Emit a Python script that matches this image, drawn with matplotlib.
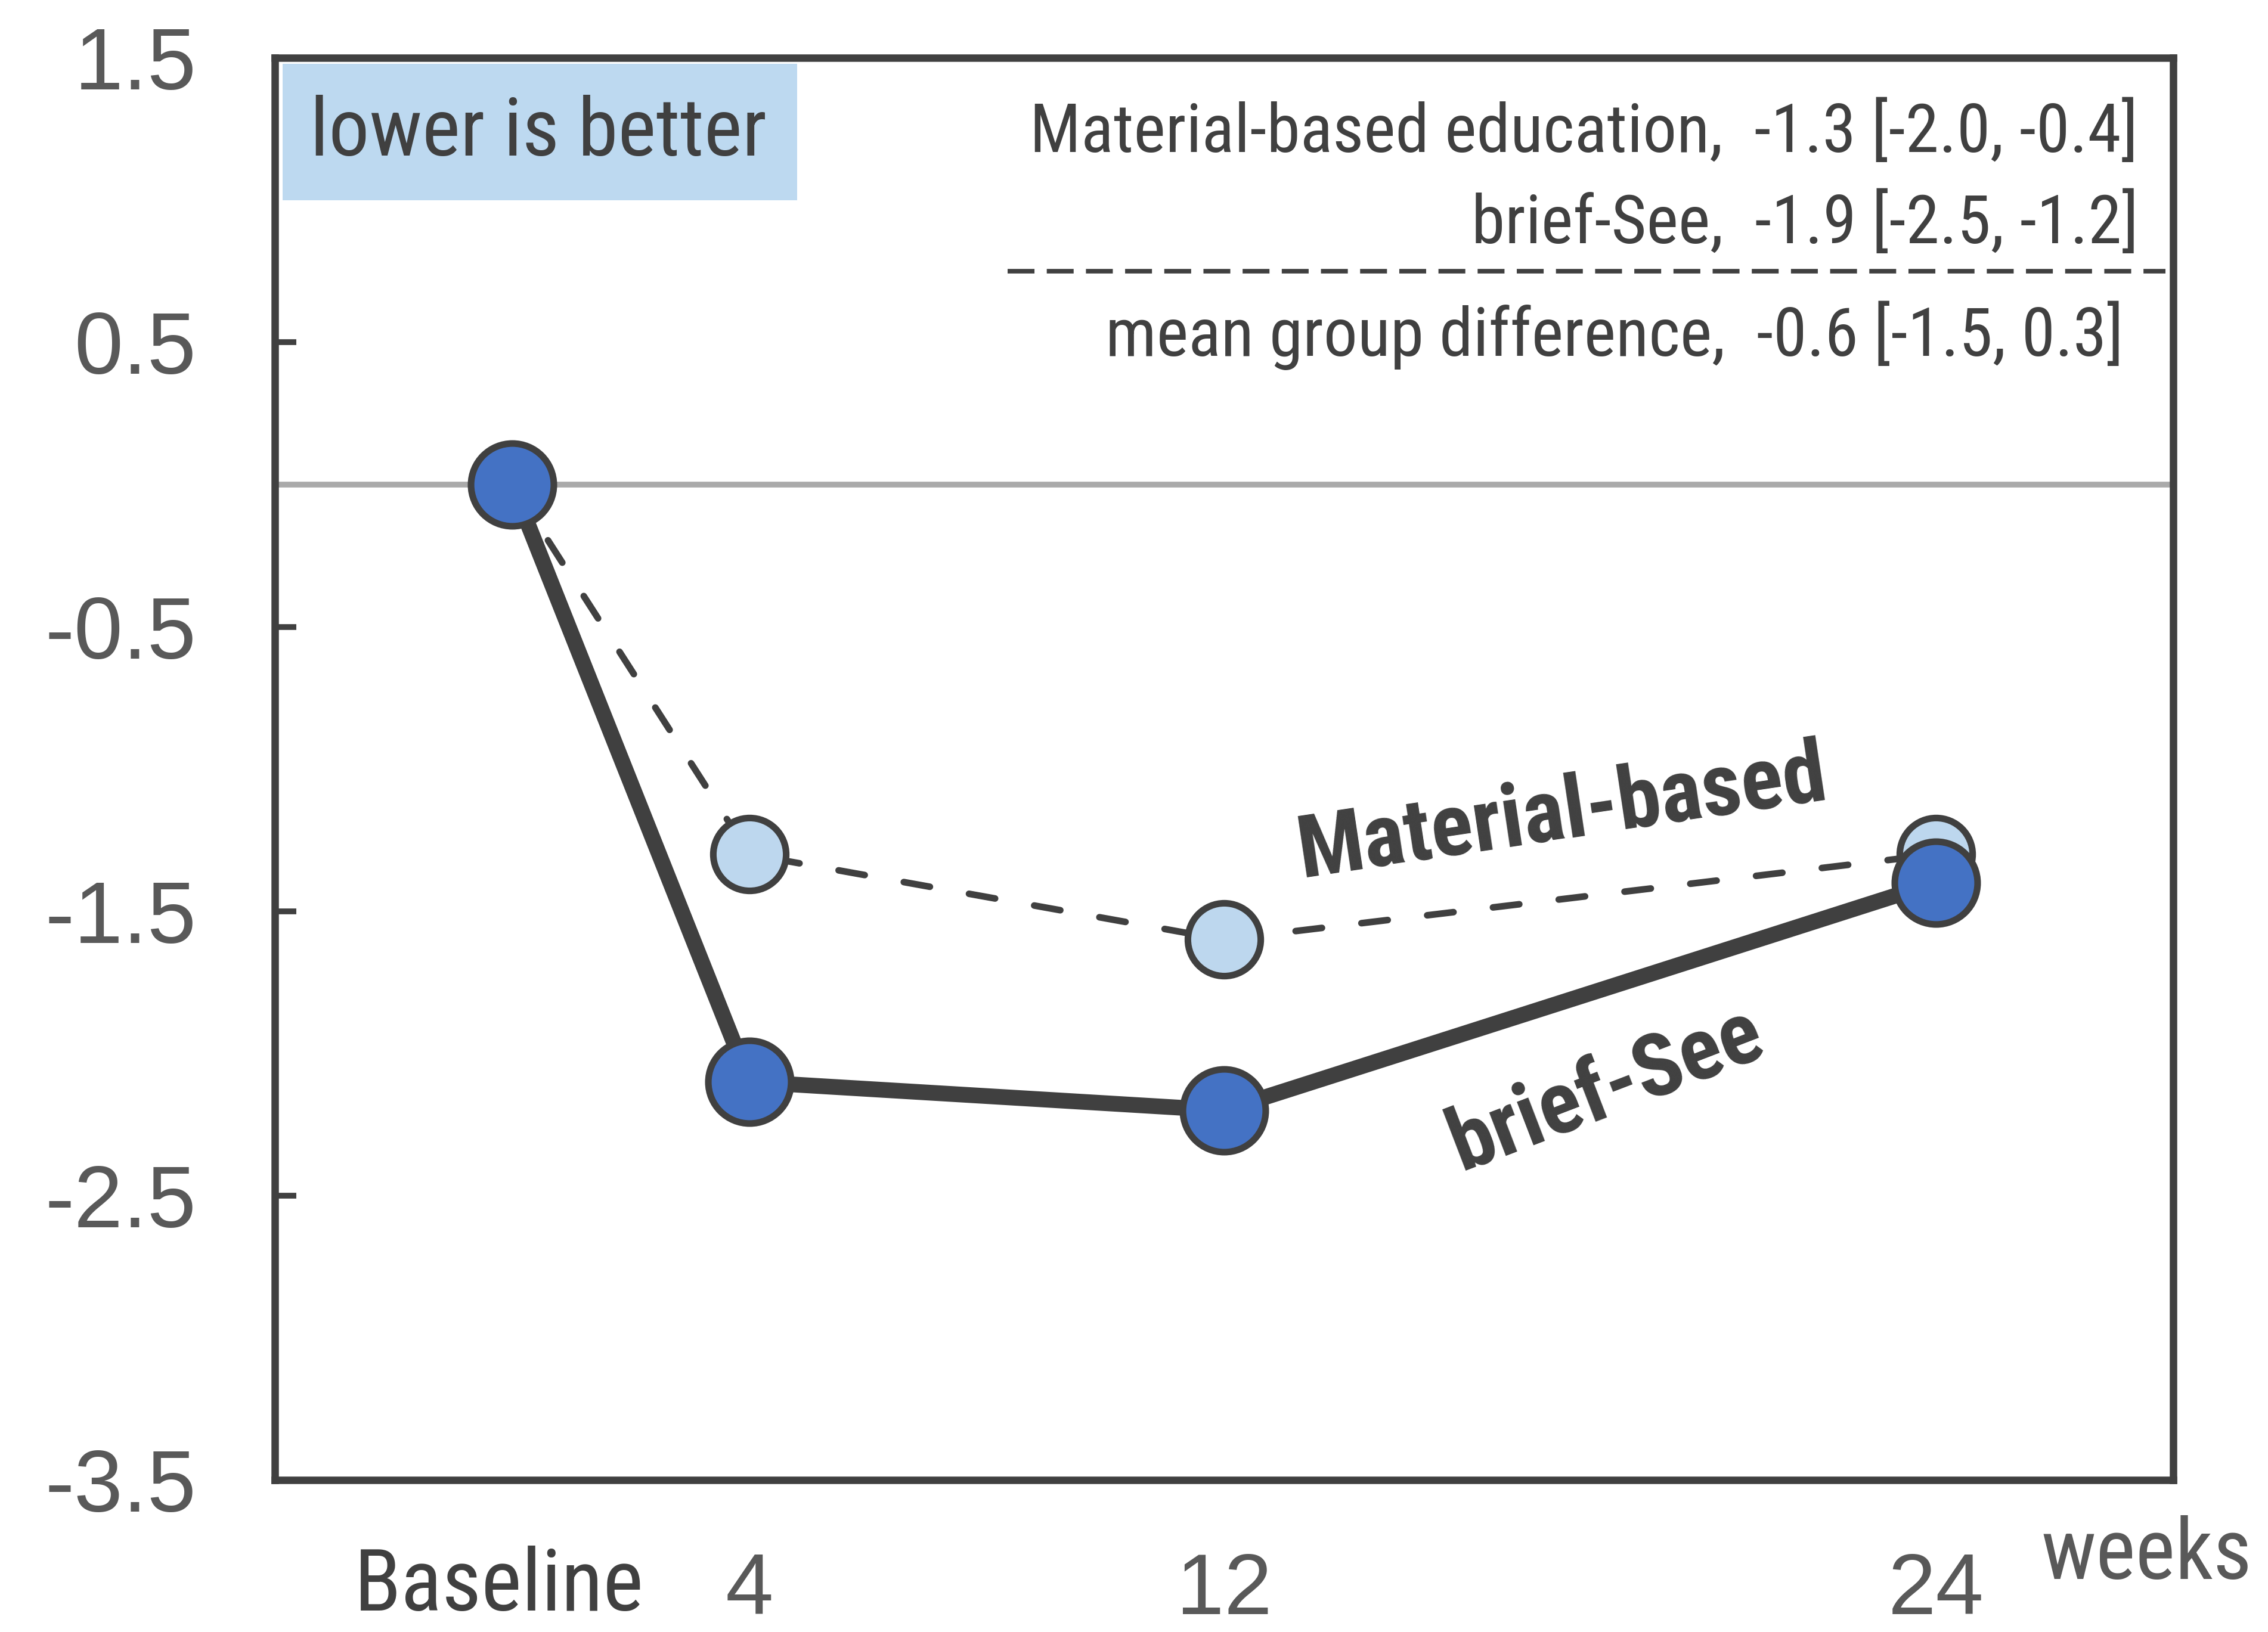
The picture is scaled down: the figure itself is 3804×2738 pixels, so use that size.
import matplotlib
matplotlib.use("Agg")
import matplotlib.pyplot as plt
from matplotlib import font_manager
from matplotlib.patches import Rectangle
from matplotlib.transforms import ScaledTranslation

# datos
semanas = [0, 4, 12, 24]
etiquetas_x = ["Baseline", "4", "12", "24"]
brief_see = [0.0, -2.1, -2.2, -1.4]
material = [0.0, -1.3, -1.6, -1.3]
yticks = [1.5, 0.5, -0.5, -1.5, -2.5, -3.5]

texto_resumen = [
    "Material-based education,  -1.3 [-2.0, -0.4]",
    "brief-See,  -1.9 [-2.5, -1.2]",
    "mean group difference,  -0.6 [-1.5, 0.3]",
]

# fuente angosta si esta disponible
nombres = {f.name for f in font_manager.fontManager.ttflist}
angosta = "Roboto Condensed" if "Roboto Condensed" in nombres else "Liberation Sans"
plt.rcParams["font.family"] = [angosta, "DejaVu Sans"]
numeros = ["Liberation Sans", "DejaVu Sans"]

oscuro = "#404040"
gris = "#595959"
azul = "#4472C4"
celeste = "#BDD7EE"

fig = plt.figure(figsize=(38.05, 27.38), dpi=100)
ax = fig.add_axes([0.1212, 0.0931, 0.8367, 0.8714])

ax.axhline(0, color="#AAAAAA", lw=7, zorder=1)

ax.plot(semanas, material, color=oscuro, lw=8, ls=(0, (4, 6)),
        dash_capstyle="round", zorder=2)
ax.plot(semanas, brief_see, color=oscuro, lw=19, solid_capstyle="round", zorder=3)
ax.plot(semanas, material, ls="none", marker="o", ms=88, mfc=celeste,
        mec=oscuro, mew=8, zorder=4)
ax.plot(semanas, brief_see, ls="none", marker="o", ms=100, mfc=azul,
        mec=oscuro, mew=8, zorder=5)

ax.set_xlim(-4, 28)
ax.set_ylim(-3.5, 1.5)

for s in ax.spines.values():
    s.set_color(oscuro)
    s.set_linewidth(9)

ax.set_yticks(yticks)
ax.set_yticklabels([f"{v:.1f}" for v in yticks], family=numeros)
ax.tick_params(axis="y", direction="in", length=26, width=7, color=oscuro,
               labelsize=106, labelcolor=gris, pad=95)
ax.set_xticks(semanas)
ax.set_xticklabels(etiquetas_x, family=numeros)
ax.tick_params(axis="x", length=0, labelsize=104, labelcolor=gris, pad=86)
base = ax.get_xticklabels()[0]
base.set_color(oscuro)
base.set_fontfamily([angosta, "DejaVu Sans"])
base.set_fontsize(104)
base.set_transform(base.get_transform() + ScaledTranslation(-0.22, 0.1, fig.dpi_scale_trans))

ax.text(0.986, -0.053, "weeks", transform=ax.transAxes, ha="center",
        va="center", fontsize=102, color=gris, clip_on=False)

# cuadro "lower is better"
ax.add_patch(Rectangle((0.004, 0.900), 0.271, 0.096, transform=ax.transAxes,
                       facecolor="#BDD9F0", edgecolor="none", zorder=1))
ax.text(0.1387, 0.947, "lower is better", transform=ax.transAxes, ha="center",
        va="center", fontsize=98, color=oscuro, zorder=2)

# resumen arriba a la derecha
ax.text(0.9817, 0.947, texto_resumen[0], transform=ax.transAxes, ha="right",
        va="center", fontsize=82, color=oscuro)
ax.text(0.9817, 0.883, texto_resumen[1], transform=ax.transAxes, ha="right",
        va="center", fontsize=82, color=oscuro)
ax.plot([0.386, 0.996], [0.850, 0.850], transform=ax.transAxes, color=oscuro,
        lw=5.5, ls=(0, (5.9, 2.7)))
ax.text(0.974, 0.805, texto_resumen[2], transform=ax.transAxes, ha="right",
        va="center", fontsize=82, color=oscuro)

# etiquetas de las series
ax.text(17.7, -1.16, "Material-based", rotation=8.5, ha="center", va="center",
        fontsize=106, fontweight="bold", color=oscuro, zorder=6)
ax.text(18.45, -2.13, "brief-See", rotation=21, ha="center", va="center",
        fontsize=106, fontweight="bold", color=oscuro, zorder=6)

fig.savefig("out.png", dpi=100)
